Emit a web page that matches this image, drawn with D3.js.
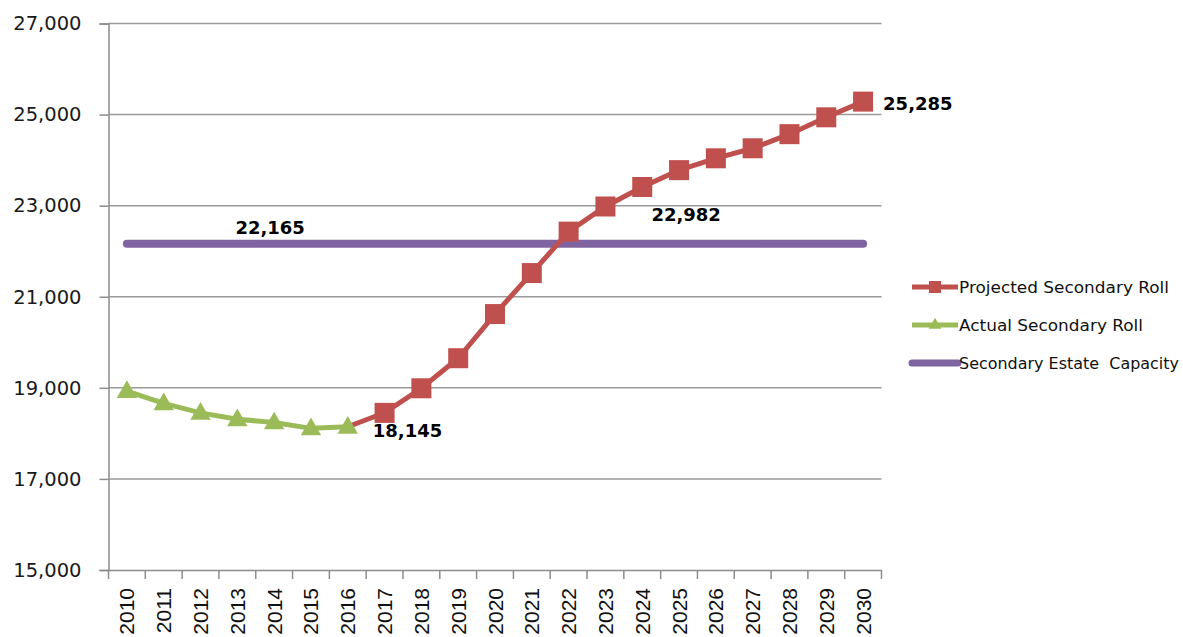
<!DOCTYPE html>
<html>
<head>
<meta charset="utf-8">
<script src="https://cdn.jsdelivr.net/npm/d3@7"></script>
<style>
  body { margin: 0; background: #fff; }
  svg { display: block; }
</style>
</head>
<body>
<svg id="chart" width="1183" height="637"></svg>
<script>
var years = d3.range(2010, 2031);
var yTicks = [15000, 17000, 19000, 21000, 23000, 25000, 27000];

// projected starts at 2016 (joins the actual series)
var projectedYears = [2016, 2017, 2018, 2019, 2020, 2021, 2022, 2023, 2024, 2025, 2026, 2027, 2028, 2029, 2030];
var projected = [18145, 18450, 18990, 19650, 20620, 21520, 22430, 22982, 23410, 23780, 24040, 24260, 24570, 24940, 25285];

var actualYears = [2010, 2011, 2012, 2013, 2014, 2015, 2016];
var actual = [18930, 18660, 18450, 18310, 18240, 18110, 18145];

var capacity = 22165;

var seriesNames = ['Projected Secondary Roll', 'Actual Secondary Roll', 'Secondary Estate  Capacity'];
var colors = { proj: '#C0504D', act: '#9BBB59', cap: '#8064A2' };

var svg = d3.select('#chart');
var plotL = 108.5, plotR = 881.5, plotT = 23.5, plotB = 570;

var x = d3.scaleBand().domain(years).range([plotL, plotR]).padding(0);
var cx = function(d) { return x(d) + x.bandwidth() / 2; };
var y = d3.scaleLinear().domain([15000, 27000]).range([plotB, plotT]);

// gridlines
svg.append('g')
    .selectAll('line')
    .data(yTicks.slice(1))
    .enter().append('line')
    .attr('x1', plotL).attr('x2', plotR)
    .attr('y1', function(d) { return y(d); })
    .attr('y2', function(d) { return y(d); })
    .attr('stroke', '#9a9a9a').attr('stroke-width', 1.5);

// y axis
var yAxis = svg.append('g')
    .attr('transform', 'translate(' + plotL + ',0)')
    .call(d3.axisLeft(y).tickValues(yTicks).tickSize(9).tickPadding(18)
        .tickFormat(d3.format(',')));
yAxis.selectAll('line, path').attr('stroke', '#8c8c8c').attr('stroke-width', 1.5);
yAxis.selectAll('text')
    .attr('font-family', 'DejaVu Sans').attr('font-size', 19.5).attr('fill', '#1a1a1a');

// x axis (labels) + boundary tick marks
var xAxis = svg.append('g')
    .attr('transform', 'translate(0,' + plotB + ')')
    .call(d3.axisBottom(x).tickSize(0).tickPadding(0));
xAxis.select('path').attr('stroke', '#8c8c8c').attr('stroke-width', 1.5);
xAxis.selectAll('text')
    .attr('font-family', 'Liberation Sans').attr('font-size', 21).attr('fill', '#111')
    .attr('text-anchor', 'end')
    .attr('dy', null)
    .attr('transform', 'translate(7.5,18) rotate(-90)')
    .attr('y', 0);

var bounds = years.map(function(d) { return x(d); }).concat([x(years[years.length - 1]) + x.bandwidth()]);
svg.append('g')
    .selectAll('line')
    .data(bounds)
    .enter().append('line')
    .attr('x1', function(d) { return d; }).attr('x2', function(d) { return d; })
    .attr('y1', plotB).attr('y2', plotB + 9)
    .attr('stroke', '#8c8c8c').attr('stroke-width', 1.5);

var line = d3.line().x(function(d) { return cx(d[0]); }).y(function(d) { return y(d[1]); });

// capacity
svg.append('path')
    .datum([[years[0], capacity], [years[years.length - 1], capacity]])
    .attr('d', line)
    .attr('stroke', colors.cap).attr('stroke-width', 8).attr('stroke-linecap', 'round')
    .attr('fill', 'none');

// projected
var projData = d3.zip(projectedYears, projected);
svg.append('path')
    .datum(projData)
    .attr('d', line)
    .attr('stroke', colors.proj).attr('stroke-width', 5).attr('fill', 'none');
svg.append('g')
    .selectAll('rect')
    .data(projData.slice(1))
    .enter().append('rect')
    .attr('x', function(d) { return cx(d[0]) - 10; })
    .attr('y', function(d) { return y(d[1]) - 10; })
    .attr('width', 20).attr('height', 20)
    .attr('fill', colors.proj);

// actual
var actData = d3.zip(actualYears, actual);
svg.append('path')
    .datum(actData)
    .attr('d', line)
    .attr('stroke', colors.act).attr('stroke-width', 5).attr('fill', 'none');
var tri = d3.symbol().type(d3.symbolTriangle).size(180);
svg.append('g')
    .selectAll('path')
    .data(actData)
    .enter().append('path')
    .attr('d', tri)
    .attr('transform', function(d) { return 'translate(' + cx(d[0]) + ',' + (y(d[1]) + 1) + ')'; })
    .attr('fill', colors.act);

// data labels
var labels = [
    { t: '22,165', x: cx(2014) - 4, y: y(capacity) - 10, a: 'middle' },
    { t: '18,145', x: cx(2016) + 25, y: y(18145) + 10, a: 'start' },
    { t: '22,982', x: cx(2023) + 46, y: y(22982) + 15, a: 'start' },
    { t: '25,285', x: cx(2030) + 20, y: y(25285) + 8, a: 'start' }
];
svg.append('g')
    .selectAll('text')
    .data(labels)
    .enter().append('text')
    .attr('x', function(d) { return d.x; })
    .attr('y', function(d) { return d.y; })
    .attr('text-anchor', function(d) { return d.a; })
    .attr('font-family', 'DejaVu Sans').attr('font-weight', 'bold').attr('font-size', 18)
    .attr('fill', '#000')
    .text(function(d) { return d.t; });

// legend
var legend = svg.append('g').attr('transform', 'translate(912,287)');
var items = legend.selectAll('g')
    .data(seriesNames)
    .enter().append('g')
    .attr('transform', function(d, i) { return 'translate(0,' + i * 38 + ')'; });
items.append('line')
    .attr('x1', 0).attr('x2', 46).attr('y1', 0).attr('y2', 0)
    .attr('stroke', function(d, i) { return [colors.proj, colors.act, colors.cap][i]; })
    .attr('stroke-width', function(d, i) { return i == 2 ? 7 : 5; })
    .attr('stroke-linecap', function(d, i) { return i == 2 ? 'round' : 'butt'; });
items.filter(function(d, i) { return i == 0; })
    .append('rect').attr('x', 17).attr('y', -6).attr('width', 12).attr('height', 12)
    .attr('fill', colors.proj);
items.filter(function(d, i) { return i == 1; })
    .append('path').attr('d', d3.symbol().type(d3.symbolTriangle).size(70))
    .attr('transform', 'translate(23,0)')
    .attr('fill', colors.act);
items.append('text')
    .attr('x', 47).attr('y', 6)
    .style('white-space', 'pre')
    .attr('font-family', 'DejaVu Sans').attr('font-size', 15.5).attr('fill', '#111')
    .attr('textLength', function(d, i) { return [210, 184, 220][i]; })
    .attr('lengthAdjust', 'spacingAndGlyphs')
    .text(function(d) { return d; });
</script>
</body>
</html>
